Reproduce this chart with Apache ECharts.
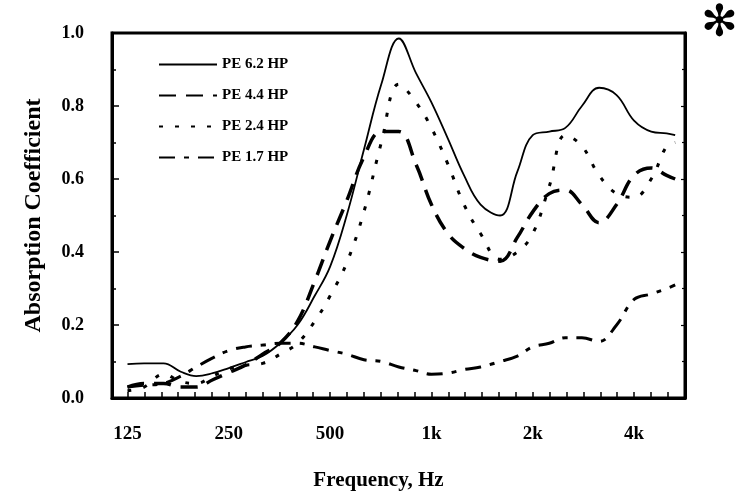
<!DOCTYPE html>
<html>
<head>
<meta charset="utf-8">
<script src="https://cdn.jsdelivr.net/npm/echarts@6/dist/echarts.min.js"></script>
<style>
  html, body { margin: 0; padding: 0; background: #fff; }
  #chart { width: 735px; height: 499px; }
</style>
</head>
<body>
<div id="chart"></div>
<script>
  // frequencies (Hz), read at roughly 1/6 octave steps
  var freqs = [125, 140, 160, 180, 200, 224, 250, 280, 315, 355, 400, 450, 500, 560, 630, 710, 800, 900,
               1000, 1120, 1250, 1400, 1600, 1800, 2000, 2240, 2500, 2800, 3150, 3550, 4000, 4500, 5000, 5300];
  var pe62 = [0.093, 0.095, 0.095, 0.072, 0.060, 0.068, 0.082, 0.098, 0.115, 0.150, 0.200, 0.280, 0.360, 0.500,
              0.680, 0.860, 0.985, 0.890, 0.810, 0.710, 0.610, 0.530, 0.500, 0.620, 0.720, 0.730, 0.740, 0.800,
              0.850, 0.830, 0.760, 0.730, 0.725, 0.720];
  var pe44 = [0.030, 0.040, 0.040, 0.030, 0.030, 0.050, 0.070, 0.090, 0.120, 0.150, 0.210, 0.320, 0.430, 0.540,
              0.660, 0.730, 0.730, 0.640, 0.530, 0.450, 0.410, 0.385, 0.375, 0.440, 0.510, 0.560, 0.570, 0.530,
              0.480, 0.530, 0.610, 0.630, 0.610, 0.600];
  var pe24 = [0.020, 0.030, 0.065, 0.045, 0.040, 0.060, 0.080, 0.090, 0.095, 0.120, 0.150, 0.210, 0.280, 0.370,
              0.510, 0.700, 0.860, 0.810, 0.740, 0.640, 0.530, 0.450, 0.380, 0.400, 0.450, 0.580, 0.720, 0.690,
              0.610, 0.560, 0.550, 0.600, 0.690, 0.700];
  var pe17 = [0.030, 0.035, 0.040, 0.060, 0.085, 0.110, 0.130, 0.140, 0.145, 0.150, 0.150, 0.140, 0.130, 0.120,
              0.105, 0.100, 0.085, 0.075, 0.065, 0.068, 0.078, 0.085, 0.100, 0.115, 0.140, 0.150, 0.165, 0.165,
              0.155, 0.200, 0.270, 0.285, 0.300, 0.310];
  var freqLabels = ['125', '250', '500', '1k', '2k', '4k'];

  var font = 'Liberation Serif';

  // x axis is in octaves above 125 Hz
  function oct(f) { return Math.log2(f / 125); }
  function pairs(vals) { return freqs.map(function (f, i) { return [oct(f), vals[i]]; }); }

  var labelOct = freqLabels.map(function (l, i) { return i; });
  var tickOct = [];
  for (var k = 0; k <= 33; k++) tickOct.push(k / 6);

  var myChart = echarts.init(document.getElementById('chart'));
  var option = {
    animation: false,
    backgroundColor: '#fff',
    color: ['#000', '#000', '#000', '#000'],
    grid: { left: 112, right: 50, top: 33, bottom: 101, show: true, borderColor: '#000', borderWidth: 3 },
    legend: {
      orient: 'vertical', left: 153, top: 52,
      itemWidth: 58, itemHeight: 16, itemGap: 16,
      itemStyle: { opacity: 0 },
      textStyle: { fontFamily: font, fontWeight: 'bold', fontSize: 15, color: '#000' },
      data: ['PE 6.2 HP', 'PE 4.4 HP', 'PE 2.4 HP', 'PE 1.7 HP']
    },
    xAxis: {
      type: 'value', min: -0.153, max: 5.503,
      axisLine: { show: true, onZero: false, lineStyle: { color: '#000', width: 3 } },
      axisTick: { show: true, inside: true, length: 6, customValues: tickOct, lineStyle: { color: '#000', width: 1.5 } },
      axisLabel: {
        customValues: labelOct, margin: 27, color: '#000',
        fontFamily: font, fontWeight: 'bold', fontSize: 19,
        formatter: function (v) { return freqLabels[Math.round(v)]; }
      },
      splitLine: { show: false },
      name: 'Frequency, Hz', nameLocation: 'middle', nameGap: 72,
      nameTextStyle: { fontFamily: font, fontWeight: 'bold', fontSize: 21, color: '#000', padding: [0, 40, 0, 0] }
    },
    yAxis: [{
      type: 'value', min: 0, max: 1, interval: 0.2,
      axisLine: { show: true, onZero: false, lineStyle: { color: '#000', width: 3 } },
      axisTick: { show: true, inside: true, length: 7, lineStyle: { color: '#000', width: 1.5 } },
      minorTick: { show: true, splitNumber: 2, length: 4, lineStyle: { color: '#000', width: 1.5 } },
      axisLabel: {
        margin: 28, color: '#000', fontFamily: font, fontWeight: 'bold', fontSize: 18,
        formatter: function (v) { return v.toFixed(1); }
      },
      splitLine: { show: false },
      name: 'Absorption Coefficient', nameLocation: 'middle', nameGap: 66,
      nameTextStyle: { fontFamily: font, fontWeight: 'bold', fontSize: 24, color: '#000' }
    }, {
      type: 'value', min: 0, max: 1, interval: 0.2, position: 'right',
      axisLine: { show: true, onZero: false, lineStyle: { color: '#000', width: 3 } },
      axisTick: { show: true, inside: true, length: 4, lineStyle: { color: '#000', width: 1.2 } },
      minorTick: { show: true, splitNumber: 2, length: 3, lineStyle: { color: '#000', width: 1.2 } },
      axisLabel: { show: false },
      splitLine: { show: false }
    }],
    graphic: [{
      type: 'text', left: 701, top: 3,
      style: { text: '✻', fontSize: 44, fontFamily: 'DejaVu Sans', fontWeight: 'bold', fill: '#000' }
    }],
    series: [
      {
        name: 'PE 6.2 HP', type: 'line', symbol: 'none', smooth: 0.4,
        lineStyle: { color: '#000', width: 1.8 },
        data: pairs(pe62)
      },
      {
        name: 'PE 4.4 HP', type: 'line', symbol: 'none', smooth: 0.4,
        lineStyle: { color: '#000', width: 3.5, type: [17, 10] },
        data: pairs(pe44)
      },
      {
        name: 'PE 2.4 HP', type: 'line', symbol: 'none', smooth: 0.4,
        lineStyle: { color: '#000', width: 3, type: [4, 12] },
        data: pairs(pe24)
      },
      {
        name: 'PE 1.7 HP', type: 'line', symbol: 'none', smooth: 0.4,
        lineStyle: { color: '#000', width: 3, type: [16, 9, 5, 9] },
        data: pairs(pe17)
      }
    ]
  };
  myChart.setOption(option);
</script>
</body>
</html>
